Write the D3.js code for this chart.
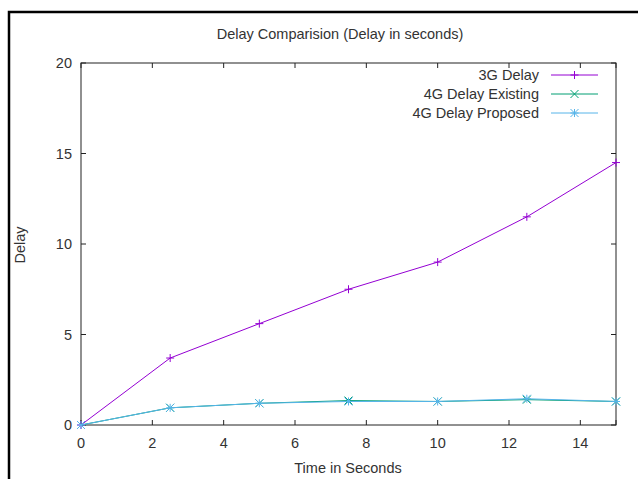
<!DOCTYPE html>
<html>
<head>
<meta charset="utf-8">
<script src="https://cdn.jsdelivr.net/npm/d3@7/dist/d3.min.js"></script>
<style>
  body { margin: 0; background: #fff; }
  svg { display: block; font-family: "Liberation Sans", Arial, sans-serif; }
</style>
</head>
<body>
<svg id="svg1" width="638" height="479"></svg>
<script>
var width = 638;
var height = 479;

// data
var times = [0, 2.5, 5, 7.5, 10, 12.5, 15];
var delay3G = [0, 3.7, 5.6, 7.5, 9.0, 11.5, 14.5];
var delay4GExisting = [0, 0.95, 1.2, 1.35, 1.3, 1.4, 1.3];
var delay4GProposed = [0, 0.95, 1.2, 1.3, 1.3, 1.45, 1.3];
var seriesNames = ['3G Delay', '4G Delay Existing', '4G Delay Proposed'];
var seriesColors = ['#9400d3', '#009e73', '#56b4e9'];
var xTicks = [0, 2, 4, 6, 8, 10, 12, 14];
var yTicks = [0, 5, 10, 15, 20];

// plot box (window.top is reserved, so use other names)
var plotLeft = 81, plotRight = 616, plotTop = 63, plotBottom = 425;
var fontSize = 14.5;
var textColor = '#333';

var svg = d3.select('#svg1');

// outer frame (only top and left visible in the picture)
svg.append('path')
    .attr('d', 'M9,479V12H638')
    .attr('fill', 'none')
    .attr('stroke', '#000')
    .attr('stroke-width', 2.5);

var x = d3.scaleLinear().domain([0, 15]).range([plotLeft, plotRight]);
var y = d3.scaleLinear().domain([0, 20]).range([plotBottom, plotTop]);

var g = svg.append('g');

// ticks (inward, mirrored like gnuplot)
g.selectAll('.xt')
    .data(xTicks.concat([15]))
    .enter()
    .append('path')
    .attr('d', function (d) {
        return 'M' + x(d) + ',' + plotBottom + 'v-5M' + x(d) + ',' + plotTop + 'v5';
    })
    .attr('stroke', '#222')
    .attr('stroke-width', 1);

g.selectAll('.yt')
    .data(yTicks)
    .enter()
    .append('path')
    .attr('d', function (d) {
        return 'M' + plotLeft + ',' + y(d) + 'h5M' + plotRight + ',' + y(d) + 'h-5';
    })
    .attr('stroke', '#222')
    .attr('stroke-width', 1);

g.selectAll('.xl')
    .data(xTicks)
    .enter()
    .append('text')
    .attr('x', function (d) { return x(d); })
    .attr('y', plotBottom + 23)
    .attr('text-anchor', 'middle')
    .attr('font-size', fontSize)
    .attr('fill', textColor)
    .text(function (d) { return d; });

g.selectAll('.yl')
    .data(yTicks)
    .enter()
    .append('text')
    .attr('x', plotLeft - 9)
    .attr('y', function (d) { return y(d) + 5; })
    .attr('text-anchor', 'end')
    .attr('font-size', fontSize)
    .attr('fill', textColor)
    .text(function (d) { return d; });

// plot border
g.append('rect')
    .attr('x', plotLeft)
    .attr('y', plotTop)
    .attr('width', plotRight - plotLeft)
    .attr('height', plotBottom - plotTop)
    .attr('fill', 'none')
    .attr('stroke', '#222')
    .attr('stroke-width', 1);

// titles
svg.append('text')
    .attr('x', 340)
    .attr('y', 39)
    .attr('text-anchor', 'middle')
    .attr('font-size', fontSize)
    .attr('fill', textColor)
    .text('Delay Comparision (Delay in seconds)');

svg.append('text')
    .attr('x', 348)
    .attr('y', 473)
    .attr('text-anchor', 'middle')
    .attr('font-size', fontSize)
    .attr('fill', textColor)
    .text('Time in Seconds');

svg.append('text')
    .attr('transform', 'translate(25,' + 245 + ') rotate(-90)')
    .attr('text-anchor', 'middle')
    .attr('font-size', fontSize)
    .attr('fill', textColor)
    .text('Delay');

// point symbols: +, x, *
function marker(type, cx, cy) {
    var s = 4;
    var plus = 'M' + (cx - s) + ',' + cy + 'h' + (2 * s) + 'M' + cx + ',' + (cy - s) + 'v' + (2 * s);
    var cross = 'M' + (cx - s) + ',' + (cy - s) + 'l' + (2 * s) + ',' + (2 * s) +
        'M' + (cx - s) + ',' + (cy + s) + 'l' + (2 * s) + ',' + (-2 * s);
    if (type === 0) return plus;
    if (type === 1) return cross;
    return plus + cross;
}

var allSeries = [delay3G, delay4GExisting, delay4GProposed];

var line = d3.line()
    .x(function (d) { return x(d[0]); })
    .y(function (d) { return y(d[1]); });

allSeries.forEach(function (vals, i) {
    var pts = times.map(function (t, j) { return [t, vals[j]]; });
    g.append('path')
        .datum(pts)
        .attr('d', line)
        .attr('fill', 'none')
        .attr('stroke', seriesColors[i])
        .attr('stroke-width', 1);
    g.selectAll('.m' + i)
        .data(pts)
        .enter()
        .append('path')
        .attr('d', function (d) { return marker(i, x(d[0]), y(d[1])); })
        .attr('stroke', seriesColors[i])
        .attr('stroke-width', 1)
        .attr('fill', 'none');
});

// legend
var legend = svg.append('g');
seriesNames.forEach(function (name, i) {
    var ly = 75 + i * 19;
    legend.append('text')
        .attr('x', 539)
        .attr('y', ly + 5)
        .attr('text-anchor', 'end')
        .attr('font-size', fontSize)
        .attr('fill', textColor)
        .text(name);
    legend.append('path')
        .attr('d', 'M551,' + ly + 'H598')
        .attr('stroke', seriesColors[i])
        .attr('stroke-width', 1);
    legend.append('path')
        .attr('d', marker(i, 574.5, ly))
        .attr('stroke', seriesColors[i])
        .attr('stroke-width', 1)
        .attr('fill', 'none');
});
</script>
</body>
</html>
